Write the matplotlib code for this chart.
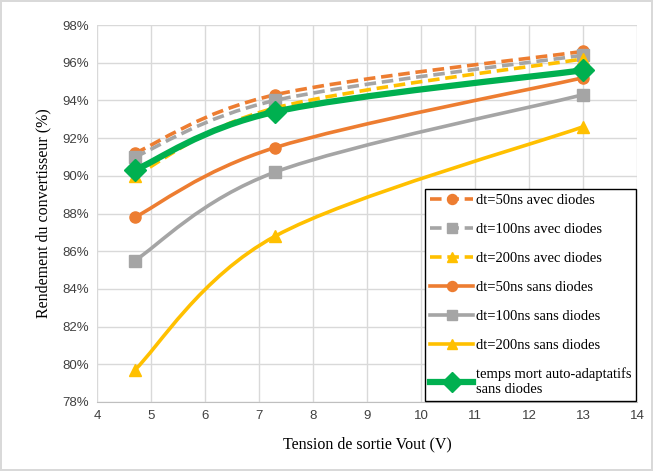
import numpy as np
import matplotlib
matplotlib.use('Agg')
import matplotlib.pyplot as plt
from matplotlib.path import Path
from matplotlib.patches import PathPatch
from matplotlib.lines import Line2D

# data
vout = [4.7, 7.3, 13.0]
dt50_avec = [91.2, 94.3, 96.6]
dt100_avec = [91.0, 94.0, 96.4]
dt200_avec = [90.0, 93.6, 96.2]
dt50_sans = [87.8, 91.5, 95.2]
dt100_sans = [85.5, 90.2, 94.3]
dt200_sans = [79.7, 86.8, 92.6]
auto_adapt = [90.3, 93.4, 95.6]

labels = ['dt=50ns avec diodes', 'dt=100ns avec diodes', 'dt=200ns avec diodes',
          'dt=50ns sans diodes', 'dt=100ns sans diodes', 'dt=200ns sans diodes',
          'temps mort auto-adaptatifs\nsans diodes']

ORANGE = '#ED7D31'
GREY = '#A5A5A5'
YELLOW = '#FFC000'
GREEN = '#00B050'


def smooth_path(x, y):
    # Excel-like smoothed line: cubic bezier through the points
    p = np.column_stack([x, y]).astype(float)
    n = len(p)
    verts = [p[0]]
    codes = [Path.MOVETO]
    for i in range(n - 1):
        p0 = p[i - 1] if i > 0 else p[i]
        p1 = p[i]
        p2 = p[i + 1]
        p3 = p[i + 2] if i + 2 < n else p[i + 1]
        c1 = p1 + (p2 - p0) / 6.0
        c2 = p2 - (p3 - p1) / 6.0
        verts += [c1, c2, p2]
        codes += [Path.CURVE4] * 3
    return Path(verts, codes)


series = [
    (dt50_avec, ORANGE, 'o', (0, (3.2, 1.6)), 2.6, 8),
    (dt100_avec, GREY, 's', (0, (3.2, 1.6)), 2.6, 8),
    (dt200_avec, YELLOW, '^', (0, (3.2, 1.6)), 2.6, 8),
    (dt50_sans, ORANGE, 'o', '-', 2.6, 8),
    (dt100_sans, GREY, 's', '-', 2.6, 8),
    (dt200_sans, YELLOW, '^', '-', 2.6, 8),
    (auto_adapt, GREEN, 'D', '-', 4.5, 11),
]

dpi = 100
fig = plt.figure(figsize=(653 / dpi, 471 / dpi), dpi=dpi)
fig.patch.set_edgecolor('#D9D9D9')
fig.patch.set_linewidth(1.5)
ax = fig.add_axes([0.1486, 0.1465, 0.8269, 0.8004])

handles = []
for k, (vals, col, mk, ls, lw, ms) in enumerate(series):
    patch = PathPatch(smooth_path(vout, vals), facecolor='none', edgecolor=col,
                      lw=lw, linestyle=ls, capstyle='butt', zorder=3 + k * 0.1)
    ax.add_patch(patch)
    ax.plot(vout, vals, linestyle='none', marker=mk, color=col, ms=ms,
            mec=col, zorder=3.05 + k * 0.1)
    handles.append(Line2D([], [], color=col, lw=lw, linestyle=ls, marker=mk,
                          ms=ms * 0.9, mec=col))

ax.set_xlim(4, 14)
ax.set_ylim(78, 98)
ax.set_xticks(np.arange(4, 15, 1))
ax.set_yticks(np.arange(78, 99, 2))
ax.set_yticklabels(['%d%%' % v for v in range(78, 99, 2)])
ax.grid(True, color='#D9D9D9', lw=1)
ax.set_axisbelow(True)
for s in ['top', 'right', 'left']:
    ax.spines[s].set_visible(False)
ax.spines['bottom'].set_color('#BFBFBF')
ax.tick_params(length=0, labelsize=9.5, colors='#404040', pad=6)
for t in ax.get_xticklabels() + ax.get_yticklabels():
    t.set_fontfamily('Liberation Sans')

ax.set_xlabel('Tension de sortie Vout (V)', fontfamily='Liberation Serif',
              fontsize=11.5, labelpad=10)
ax.set_ylabel('Rendement du convertisseur (%)', fontfamily='Liberation Serif',
              fontsize=11.5, labelpad=8)

leg = ax.legend(handles, labels, loc='lower right', bbox_to_anchor=(1.0, 0.0),
                prop={'family': 'Liberation Serif', 'size': 10.5},
                fancybox=False, edgecolor='black', framealpha=1,
                labelspacing=1.08, handlelength=3.0, handletextpad=0.15,
                borderpad=0.3, borderaxespad=0.1)
leg.get_frame().set_linewidth(1.0)
leg.set_zorder(10)

fig.savefig('out.png', dpi=dpi)
